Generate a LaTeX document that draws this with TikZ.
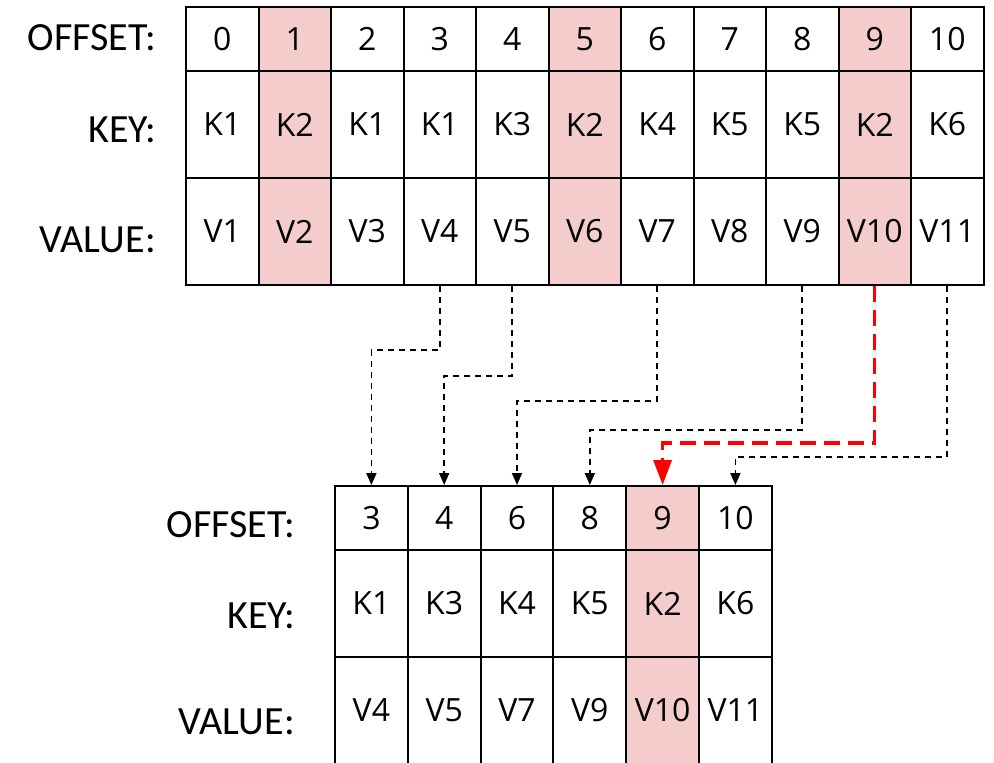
\documentclass[tikz,border=0pt]{standalone}
\usepackage{fontspec}
\setmainfont{Open Sans}
\newfontfamily\labfont{Carlito}
\usetikzlibrary{arrows.meta}
\definecolor{hl}{HTML}{F4CCCC}
\definecolor{rd}{HTML}{FF0000}
\begin{document}
\begin{tikzpicture}[x=1pt,y=1pt,
  cell/.style={draw,line width=2pt,minimum width=72.5pt,inner sep=0pt,font=\fontsize{32}{38}\selectfont},
  orow/.style={minimum height=64pt},
  krow/.style={minimum height=107pt},
  hlc/.style={fill=hl},
  nohl/.style={},
  lab/.style={anchor=east,inner sep=0pt,font=\labfont\fontsize{40}{47}\selectfont},
  conn/.style={dash pattern=on 6pt off 5pt,line width=1.8pt,-{Triangle[width=10pt,length=12pt]}},
  rconn/.style={rd,dash pattern=on 16pt off 8pt,line width=3.3pt,-{Triangle[width=18pt,length=25pt]}}]
\useasboundingbox (0,0) rectangle (994,-763);

% top table
\foreach \k/\v/\s [count=\i from 0] in {K1/V1/nohl,K2/V2/hlc,K1/V3/nohl,K1/V4/nohl,K3/V5/nohl,K2/V6/hlc,K4/V7/nohl,K5/V8/nohl,K5/V9/nohl,K2/V10/hlc,K6/V11/nohl}{
  \node[cell,orow,\s] (to\i) at ({222.25+72.5*\i},-39) {\i};
  \node[cell,krow,\s] (tk\i) at ({222.25+72.5*\i},-124.5) {\k};
  \node[cell,krow,\s] (tv\i) at ({222.25+72.5*\i},-231.5) {\v};
}
\node[lab] (tlo) at (156,-38) {OFFSET:};
\node[lab] (tlk) at (156,-130) {KEY:};
\node[lab] (tlv) at (156,-240) {VALUE:};

% bottom table
\foreach \o/\k/\v/\s [count=\j from 0] in {3/K1/V4/nohl,4/K3/V5/nohl,6/K4/V7/nohl,8/K5/V9/nohl,9/K2/V10/hlc,10/K6/V11/nohl}{
  \node[cell,orow,\s,minimum width=72.8pt] (bo\j) at ({371.4+72.8*\j},-518) {\o};
  \node[cell,krow,\s,minimum width=72.8pt] (bk\j) at ({371.4+72.8*\j},-603.5) {\k};
  \node[cell,krow,\s,minimum width=72.8pt] (bv\j) at ({371.4+72.8*\j},-710.5) {\v};
}
\node[lab] (blo) at (295,-525) {OFFSET:};
\node[lab] (blk) at (295,-616) {KEY:};
\node[lab] (blv) at (295,-722) {VALUE:};

% connectors
\coordinate (h1) at (0,-350);
\coordinate (h2) at (0,-376);
\coordinate (h3) at (0,-401);
\coordinate (h4) at (0,-430);
\coordinate (h5) at (0,-443);
\coordinate (h6) at (0,-457);
\draw[conn] (tv3.south) -- (tv3.south |- h1) -| (bo0.north);
\draw[conn] (tv4.south) -- (tv4.south |- h2) -| (bo1.north);
\draw[conn] (tv6.south) -- (tv6.south |- h3) -| (bo2.north);
\draw[conn] (tv8.south) -- (tv8.south |- h4) -| (bo3.north);
\draw[conn] (tv10.south) -- (tv10.south |- h6) -| (bo5.north);
\draw[rconn] (tv9.south) -- (tv9.south |- h5) -| (bo4.north);
\end{tikzpicture}
\end{document}
